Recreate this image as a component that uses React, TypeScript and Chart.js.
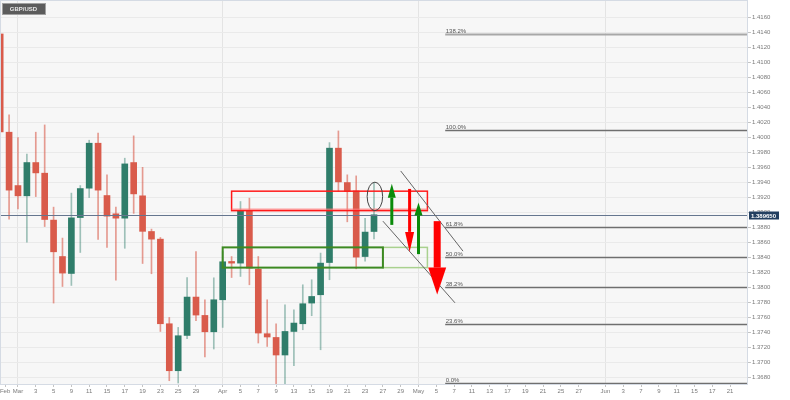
import React, { useEffect, useRef } from "react";
import { Chart, registerables } from "chart.js";

Chart.register(...registerables);

// ---------- data ----------
const SYMBOL = "GBP/USD";
// trading-day index (0 = 25 Feb 2021, weekdays only)
const DAY_INDEX = [
  0, 1, 2, 3, 4, 5, 6, 7, 8, 9, 10, 11, 12, 13, 14, 15, 16, 17, 18, 19, 20, 21,
  22, 23, 24, 25, 26, 27, 28, 29, 30, 31, 32, 33, 34, 35, 36, 37, 38, 39, 40, 41, 42,
];
const OPEN = [
  1.41378, 1.40067, 1.39355, 1.39218, 1.39662, 1.3952, 1.38894, 1.38408, 1.38182, 1.38928,
  1.3932, 1.3992, 1.39222, 1.38978, 1.3892, 1.39662, 1.39218, 1.38742, 1.3864, 1.37511,
  1.36884, 1.37355, 1.37867, 1.37622, 1.37404, 1.37831, 1.38342, 1.3832, 1.39018, 1.3824,
  1.37378, 1.37328, 1.37094, 1.37408, 1.37511, 1.37787, 1.37898, 1.38328, 1.39854, 1.39395,
  1.39284, 1.38408, 1.38742,
];
const HIGH = [
  1.4192, 1.40298, 1.39995, 1.39774, 1.40067, 1.40164, 1.39067, 1.38654, 1.39254, 1.39355,
  1.3996, 1.40054, 1.39498, 1.39067, 1.3972, 1.40018, 1.39598, 1.38774, 1.38662, 1.37595,
  1.37462, 1.38128, 1.38475, 1.37831, 1.38124, 1.38475, 1.38408, 1.39142, 1.39187, 1.38408,
  1.37831, 1.37511, 1.37764, 1.37698, 1.38031, 1.38098, 1.38454, 1.39928, 1.40084, 1.39498,
  1.39484, 1.38918, 1.39395,
];
const LOW = [
  1.40004, 1.38907, 1.39044, 1.386, 1.39208, 1.38808, 1.37787, 1.38008, 1.38022, 1.38462,
  1.39195, 1.38635, 1.38528, 1.38094, 1.38518, 1.38984, 1.38315, 1.38178, 1.37408, 1.36751,
  1.3672, 1.37311, 1.37551, 1.37067, 1.37174, 1.37462, 1.38128, 1.38142, 1.38031, 1.37254,
  1.37208, 1.36711, 1.367, 1.36951, 1.37431, 1.37618, 1.37164, 1.38098, 1.39275, 1.38871,
  1.38244, 1.38347, 1.38644,
];
const CLOSE = [
  1.40071, 1.39294, 1.39218, 1.39662, 1.39524, 1.38902, 1.38471, 1.38187, 1.38924, 1.39315,
  1.3992, 1.39294, 1.38947, 1.3892, 1.39644, 1.39244, 1.38744, 1.3864, 1.37511, 1.36884,
  1.37351, 1.37867, 1.37627, 1.37404, 1.37831, 1.38338, 1.3832, 1.39018, 1.38254, 1.37387,
  1.37334, 1.37094, 1.37408, 1.3752, 1.37778, 1.37875, 1.3832, 1.39854, 1.39404, 1.39275,
  1.384, 1.38734, 1.38965,
];
const LAST_PRICE = 1.38965;
const LAST_PRICE_LABEL = "1.389650";

const X_TICK_POS = [
  0.55, 2, 4, 6, 8, 10, 12, 14, 16, 18, 20, 22, 25, 27, 29, 31, 33, 35, 37, 39, 41, 43, 45,
  47, 49, 51, 53, 55, 57, 59, 61, 63, 65, 68, 70, 72, 74, 76, 78, 80, 82,
];
const X_TICK_LABELS = [
  "Feb", "Mar", "3", "5", "9", "11", "15", "17", "19", "23", "25", "29", "Apr", "5", "7", "9",
  "13", "15", "19", "21", "23", "27", "29", "May", "5", "7", "11", "13", "17", "19", "21",
  "25", "27", "Jun", "3", "7", "9", "11", "15", "17", "21",
];
const MONTH_STARTS = [2, 25, 47, 68];
const Y_TICKS = [
  1.368, 1.37, 1.372, 1.374, 1.376, 1.378, 1.38, 1.382, 1.384, 1.386, 1.388, 1.39, 1.392,
  1.394, 1.396, 1.398, 1.4, 1.402, 1.404, 1.406, 1.408, 1.41, 1.412, 1.414, 1.416,
];
const X_MIN = -0.02;
const X_MAX = 84.02;
const Y_MIN = 1.36707;
const Y_MAX = 1.41831;

const FIB_LEVELS = [1.4138, 1.401, 1.388, 1.384, 1.38, 1.3751, 1.3672];
const FIB_LABELS = ["138.2%", "100.0%", "61.8%", "50.0%", "38.2%", "23.6%", "0.0%"];
const FIB_START = 50;

// annotation anchors in data units (x = trading-day index, y = price)
const RED_BOX = [26, 48, 1.3902, 1.3928];
const GREEN_BOX = [25, 43, 1.3826, 1.3853];
const LIGHT_GREEN_BOX = [43, 48, 1.3826, 1.3853];
const ELLIPSE = [42.1, 1.3921, 0.87, 0.0019];
const ARROW_X = [44, 46, 47, 49.1];
const ARROW_FROM = [1.3883, 1.3931, 1.3844, 1.3888];
const ARROW_TO = [1.3938, 1.3847, 1.3913, 1.379];
const CHANNEL_UPPER = [45, 1.3955, 52, 1.3848];
const CHANNEL_LOWER = [43, 1.3888, 51.1, 1.3779];

// ---------- styles ----------
const FONT = "'Liberation Sans', Arial, sans-serif";
const UP = "#2f7d6a";
const DOWN = "#d95b4b";
const UP_WICK = "rgba(47,125,106,0.45)";
const DOWN_WICK = "rgba(217,91,75,0.6)";
const ARROW_STYLE = [
  { color: "#0a8a0a", shaft: 3, head: 8, len: 14 },
  { color: "#ff0000", shaft: 3, head: 9, len: 20 },
  { color: "#0a8a0a", shaft: 3, head: 8, len: 13 },
  { color: "#ff0000", shaft: 7, head: 18, len: 27 },
];

const overlay = {
  id: "overlay",
  beforeDraw(chart: any) {
    const { ctx, chartArea: a } = chart;
    ctx.save();
    ctx.fillStyle = "#ffffff";
    ctx.fillRect(0, 0, chart.width, chart.height);
    ctx.fillStyle = "#f7f7f7";
    ctx.fillRect(a.left, a.top, a.right - a.left, a.bottom - a.top);
    ctx.restore();
  },
  afterDatasetsDraw(chart: any) {
    const { ctx, chartArea: a, scales } = chart;
    const X = (v: number) => scales.x.getPixelForValue(v);
    const Y = (v: number) => scales.y.getPixelForValue(v);
    ctx.save();
    ctx.beginPath();
    ctx.rect(a.left, a.top, a.right - a.left, a.bottom - a.top);
    ctx.clip();

    // fib levels
    FIB_LEVELS.forEach((lv, k) => {
      const y = Math.round(Y(lv)) + 0.5;
      ctx.strokeStyle = k === 0 ? "#a8a8a8" : "#6f6f6f";
      ctx.lineWidth = k === 0 ? 2 : 1.5;
      ctx.beginPath();
      ctx.moveTo(X(FIB_START), y);
      ctx.lineTo(a.right, y);
      ctx.stroke();
      ctx.fillStyle = "#555";
      ctx.font = `6px ${FONT}`;
      ctx.textAlign = "left";
      ctx.textBaseline = "alphabetic";
      ctx.fillText(FIB_LABELS[k], X(FIB_START) + 0.5, y - 1.5);
    });

    // price line
    const py = Math.round(Y(LAST_PRICE)) + 0.5;
    ctx.strokeStyle = "#65768f";
    ctx.lineWidth = 1;
    ctx.beginPath();
    ctx.moveTo(a.left, py);
    ctx.lineTo(a.right, py);
    ctx.stroke();

    // boxes
    const box = (b: number[], color: string, w: number) => {
      ctx.strokeStyle = color;
      ctx.lineWidth = w;
      ctx.strokeRect(X(b[0]), Y(b[3]), X(b[1]) - X(b[0]), Y(b[2]) - Y(b[3]));
    };
    box(LIGHT_GREEN_BOX, "#a9d18f", 1.5);
    box(GREEN_BOX, "#3d8a22", 2);
    box(RED_BOX, "#ff1a1a", 1.5);
    ctx.strokeStyle = "rgba(255,120,120,0.7)";
    ctx.lineWidth = 1.5;
    ctx.beginPath();
    ctx.moveTo(X(RED_BOX[0]), Y(RED_BOX[2]) - 1.5);
    ctx.lineTo(X(RED_BOX[1]), Y(RED_BOX[2]) - 1.5);
    ctx.stroke();

    // ellipse
    ctx.strokeStyle = "#444";
    ctx.lineWidth = 1;
    ctx.beginPath();
    ctx.ellipse(
      X(ELLIPSE[0]),
      Y(ELLIPSE[1]),
      X(ELLIPSE[0] + ELLIPSE[2]) - X(ELLIPSE[0]),
      Y(ELLIPSE[1]) - Y(ELLIPSE[1] + ELLIPSE[3]),
      0,
      0,
      Math.PI * 2
    );
    ctx.stroke();

    // channel lines
    ctx.strokeStyle = "#666";
    ctx.lineWidth = 1;
    [CHANNEL_UPPER, CHANNEL_LOWER].forEach((l) => {
      ctx.beginPath();
      ctx.moveTo(X(l[0]), Y(l[1]));
      ctx.lineTo(X(l[2]), Y(l[3]));
      ctx.stroke();
    });

    // arrows
    ARROW_X.forEach((xv, k) => {
      const s = ARROW_STYLE[k];
      const x = X(xv);
      const y0 = Y(ARROW_FROM[k]);
      const y1 = Y(ARROW_TO[k]);
      const dir = y1 > y0 ? 1 : -1;
      const yb = y1 - dir * s.len;
      ctx.fillStyle = s.color;
      ctx.fillRect(x - s.shaft / 2, Math.min(y0, yb), s.shaft, Math.abs(yb - y0));
      ctx.beginPath();
      ctx.moveTo(x - s.head / 2, yb);
      ctx.lineTo(x + s.head / 2, yb);
      ctx.lineTo(x, y1);
      ctx.closePath();
      ctx.fill();
    });
    ctx.restore();

    // border
    ctx.save();
    ctx.strokeStyle = "#d5dbe4";
    ctx.lineWidth = 1;
    ctx.strokeRect(a.left + 0.5, a.top + 0.5, a.right - a.left - 1, a.bottom - a.top);
    ctx.restore();

    // price label on axis
    ctx.save();
    ctx.fillStyle = "#223f60";
    ctx.fillRect(a.right + 1, py - 4, 30, 8);
    ctx.fillStyle = "#ffffff";
    ctx.font = `bold 6px ${FONT}`;
    ctx.textAlign = "left";
    ctx.textBaseline = "middle";
    ctx.fillText(LAST_PRICE_LABEL, a.right + 3, py + 0.5);
    ctx.restore();

    // symbol tag
    ctx.save();
    ctx.fillStyle = "#5c5c5c";
    ctx.fillRect(2, 3, 44, 12);
    ctx.strokeStyle = "#a0a0a0";
    ctx.lineWidth = 1;
    ctx.strokeRect(2.5, 3.5, 43, 11);
    ctx.fillStyle = "#e8e8e8";
    ctx.font = `bold 6px ${FONT}`;
    ctx.textAlign = "center";
    ctx.textBaseline = "middle";
    ctx.fillText(SYMBOL, 23.5, 9.5);
    ctx.restore();
  },
};

export default function App() {
  const ref = useRef<HTMLCanvasElement | null>(null);
  useEffect(() => {
    if (!ref.current) return;
    const up = DAY_INDEX.map((_, k) => CLOSE[k] >= OPEN[k]);
    const chart = new Chart(ref.current, {
      type: "bar",
      data: {
        datasets: [
          {
            label: "wick",
            data: DAY_INDEX.map((d, k) => ({ x: d, y: [LOW[k], HIGH[k]] })) as any,
            backgroundColor: up.map((u) => (u ? UP_WICK : DOWN_WICK)),
            barThickness: 1,
            grouped: false,
            order: 2,
          },
          {
            label: "body",
            data: DAY_INDEX.map((d, k) => ({ x: d, y: [OPEN[k], CLOSE[k]] })) as any,
            backgroundColor: up.map((u) => (u ? UP : DOWN)),
            barThickness: 6,
            grouped: false,
            order: 1,
          },
        ],
      },
      options: {
        animation: false,
        responsive: false,
        devicePixelRatio: 1,
        events: [],
        layout: { padding: 0 },
        plugins: { legend: { display: false }, tooltip: { enabled: false }, title: { display: false } },
        scales: {
          x: {
            type: "linear",
            min: X_MIN,
            max: X_MAX,
            offset: false,
            border: { display: false },
            grid: {
              offset: false,
              drawTicks: true,
              tickLength: 3,
              tickColor: "#c4c4c4",
              color: (c: any) =>
                c.tick && MONTH_STARTS.includes(c.tick.value) ? "#e4e4e4" : "rgba(0,0,0,0)",
            },
            ticks: {
              autoSkip: false,
              maxRotation: 0,
              minRotation: 0,
              padding: 1,
              color: "#7a7a7a",
              font: { family: FONT, size: 6 },
              callback: (_v: any, i: number) => X_TICK_LABELS[i],
            },
            afterBuildTicks: (s: any) => {
              s.ticks = X_TICK_POS.map((v) => ({ value: v }));
            },
            afterFit: (s: any) => {
              s.height = 16;
              s.paddingLeft = 0;
              s.paddingRight = 0;
            },
          } as any,
          y: {
            type: "linear",
            position: "right",
            min: Y_MIN,
            max: Y_MAX,
            beginAtZero: false,
            border: { display: false },
            grid: { color: "#eaeaea", drawTicks: true, tickLength: 3, tickColor: "#c4c4c4" },
            ticks: {
              padding: 1,
              color: "#7a7a7a",
              font: { family: FONT, size: 6 },
              callback: (v: any) => Number(v).toFixed(4),
            },
            afterBuildTicks: (s: any) => {
              s.ticks = Y_TICKS.map((v) => ({ value: v }));
            },
            afterFit: (s: any) => {
              s.width = 42;
              s.paddingTop = 0;
              s.paddingBottom = 0;
            },
          } as any,
        },
      },
      plugins: [overlay],
    });
    return () => chart.destroy();
  }, []);
  return (
    <div style={{ position: "fixed", left: 0, top: 0, width: 790, height: 400, background: "#fff" }}>
      <canvas ref={ref} width={790} height={400} style={{ display: "block" }} />
    </div>
  );
}
